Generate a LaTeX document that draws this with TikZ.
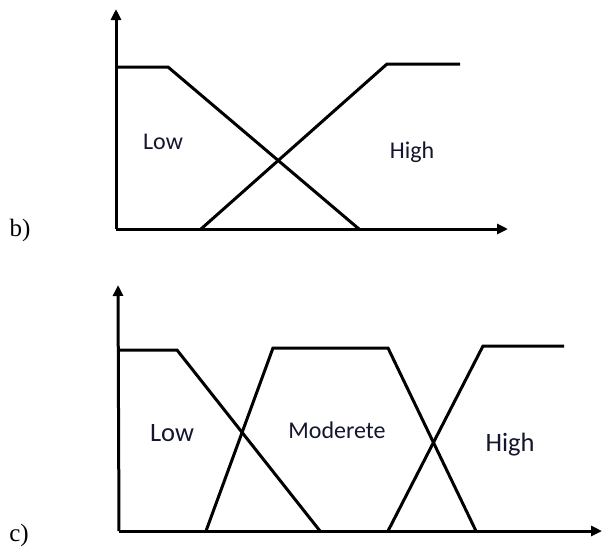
\documentclass[tikz,border=0pt]{standalone}
\usepackage{fontspec}
\setmainfont{Liberation Serif}
\setsansfont{Carlito}
\usetikzlibrary{arrows.meta}
\definecolor{lblnavy}{RGB}{20,22,45}

\begin{document}
\begin{tikzpicture}[x=1pt, y=-1pt,
  axisline/.style={line width=3pt, -{Triangle[length=11pt,width=10pt]}},
  mfline/.style={line width=3pt, line join=miter},
  setlbl/.style={text=lblnavy, font=\sffamily\fontsize{24}{28}\selectfont, inner sep=0pt},
  setlblbig/.style={text=lblnavy, font=\sffamily\fontsize{26.5}{31}\selectfont, inner sep=0pt},
  panellbl/.style={font=\fontsize{25}{29}\selectfont, inner sep=0pt}]
\useasboundingbox (0,0) rectangle (603,550);

% Panel b: two sets
\coordinate (b-o) at (116,229);
\coordinate (b-ytip) at (116,9);
\coordinate (b-xtip) at (508,229);
\draw[axisline] (b-o) -- (b-ytip);
\draw[axisline] (b-o) -- (b-xtip);
\draw[mfline] (116,67) -- (168,67) -- (359,229);
\draw[mfline] (201,229) -- (387,64) -- (460,64);
\node[setlbl] (b-low) at (163,142) {Low};
\node[setlbl] (b-high) at (412,152) {High};
\node[panellbl] (b-tag) at (20,230) {b)};

% Panel c: three sets
\coordinate (c-o) at (119,531);
\coordinate (c-ytip) at (118,285);
\coordinate (c-xtip) at (602,531);
\draw[axisline] (c-o) -- (c-ytip);
\draw[axisline] (c-o) -- (c-xtip);
\draw[mfline] (119,350) -- (177,350) -- (320,531);
\draw[mfline] (206,531) -- (273,348) -- (388,348) -- (476,531);
\draw[mfline] (388,531) -- (483,346) -- (564,346);
\node[setlblbig] (c-low) at (172,433) {Low};
\node[setlbl] (c-mod) at (337,430) {Moderete};
\node[setlblbig] (c-high) at (510,445) {High};
\node[panellbl] (c-tag) at (19,535) {c)};
\end{tikzpicture}
\end{document}
